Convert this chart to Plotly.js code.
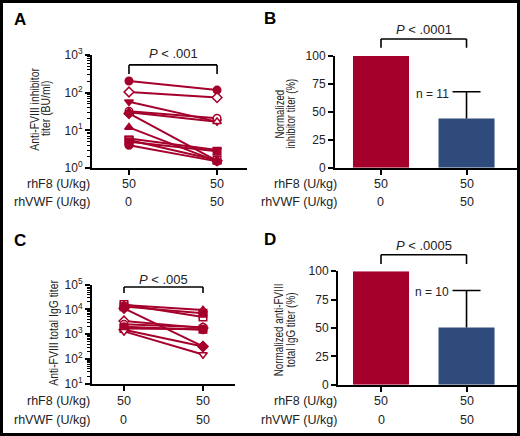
<!DOCTYPE html>
<html><head><meta charset="utf-8">
<script src="https://cdn.plot.ly/plotly-3.0.1.min.js"></script>
<style>html,body{margin:0;padding:0;background:#fff}#chart{width:520px;height:436px}</style>
</head><body><div id="chart"></div>
<script>
// ---- data ----
const groups = [0, 1];
const rhF8 = ['50', '50'];
const rhVWF = ['0', '50'];
const inhibitorBefore = [204, 104, 57, 32, 30, 28, 12, 6.1, 5.5, 5.0, 4.0];
const inhibitorAfter  = [117, 74, 17, 21, 17, 1.55, 1.5, 3.0, 1.6, 2.8, 1.5];
const iggBefore = [16000, 15000, 13000, 11000, 3400, 2500, 2000, 1700, 1500, 1300];
const iggAfter  = [5000, 9500, 7000, 320, 1800, 1900, 1500, 1600, 320, 150];
const normInhibitor = [100, 44];
const normInhibitorSD = [null, 24];
const normIgG = [100, 50.5];
const normIgGSD = [null, 32.5];
const logTicksA = [1, 10, 100, 1000];
const logTickTextA = ['10<sup>0</sup>', '10<sup>1</sup>', '10<sup>2</sup>', '10<sup>3</sup>'];
const logTicksC = [10, 100, 1000, 10000, 100000];
const logTickTextC = ['10<sup>1</sup>', '10<sup>2</sup>', '10<sup>3</sup>', '10<sup>4</sup>', '10<sup>5</sup>'];
const pctTicks = [0, 25, 50, 75, 100];

// ---- styles ----
const RED = '#a5002c', BLUE = '#2e4b7c', TXT = '#222';
const symA = ['circle','diamond','triangle-down','circle','triangle-up','diamond','triangle-up','triangle-down','square','square','circle'];
const openA = [0,1,0,1,1,0,0,1,1,0,0];
const symC = ['square','triangle-up','square','diamond','diamond','circle','circle','square','diamond','triangle-down'];
const openC = [1,0,0,0,1,1,0,0,0,1];
const FONT = 'Liberation Sans, Arial, sans-serif';

const traces = [];
function pairTraces(before, after, syms, open, xa, ya) {
  before.forEach((b, i) => {
    traces.push({
      type: 'scatter', mode: 'lines+markers', x: groups, y: [b, after[i]],
      xaxis: xa, yaxis: ya, showlegend: false, hoverinfo: 'skip', cliponaxis: false,
      line: {color: RED, width: 2},
      marker: {symbol: syms[i], size: 7.5, color: open[i] ? '#fff' : RED, line: {color: RED, width: 1.5}}
    });
  });
}
pairTraces(inhibitorBefore, inhibitorAfter, symA, openA, 'x', 'y');
pairTraces(iggBefore, iggAfter, symC, openC, 'x3', 'y3');

const layoutShapes = [];
function barTraces(vals, sd, xa, ya) {
  traces.push({type: 'bar', x: groups, y: vals, xaxis: xa, yaxis: ya, width: 0.655,
    marker: {color: [RED, BLUE], line: {width: 0}}, showlegend: false, hoverinfo: 'skip'});
  // upper error bar (SD) drawn from the data
  groups.forEach((g, i) => {
    if (sd[i] == null) return;
    const top = vals[i] + sd[i];
    layoutShapes.push({type: 'line', xref: xa, yref: ya, x0: g, x1: g, y0: vals[i], y1: top, line: {color: '#000', width: 1.6}});
    layoutShapes.push({type: 'line', xref: xa, yref: ya, xsizemode: 'pixel', xanchor: g, x0: -14, x1: 14, y0: top, y1: top, line: {color: '#000', width: 1.6}});
  });
}
barTraces(normInhibitor, normInhibitorSD, 'x2', 'y2');
barTraces(normIgG, normIgGSD, 'x4', 'y4');

const xBase = {showgrid: false, zeroline: false, showline: true, linecolor: '#000', linewidth: 2,
  ticks: 'outside', ticklen: 5, tickwidth: 2, tickcolor: '#000', tickvals: groups, showticklabels: false, fixedrange: true};
const yBase = {showgrid: false, zeroline: false, showline: true, linecolor: '#000', linewidth: 2,
  ticks: 'outside', ticklen: 5, tickwidth: 2, tickcolor: '#000', tickfont: {family: FONT, size: 12, color: TXT}, fixedrange: true};
const minorLog = {ticks: 'outside', ticklen: 3, tickwidth: 1, tickcolor: '#000', dtick: 'D1', showgrid: false};

const layout = {
  width: 520, height: 436, margin: {l: 0, r: 0, t: 0, b: 0},
  paper_bgcolor: '#fff', plot_bgcolor: 'rgba(0,0,0,0)', showlegend: false,
  font: {family: FONT, color: TXT},
  xaxis:  Object.assign({}, xBase, {domain: [0.1769, 0.475], range: [-0.42, 1.34], anchor: 'y'}),
  yaxis:  Object.assign({}, yBase, {domain: [0.6147, 0.8739], type: 'log', range: [0, 3], tickvals: logTicksA, ticktext: logTickTextA, anchor: 'x', minor: minorLog}),
  xaxis2: Object.assign({}, xBase, {domain: [0.6442, 0.9942], range: [-0.538, 1.59], anchor: 'y2'}),
  yaxis2: Object.assign({}, yBase, {domain: [0.6154, 0.8716], range: [0, 100], tickvals: pctTicks, anchor: 'x2'}),
  xaxis3: Object.assign({}, xBase, {domain: [0.1769, 0.4519], range: [-0.405, 1.405], anchor: 'y3'}),
  yaxis3: Object.assign({}, yBase, {domain: [0.12, 0.347], type: 'log', range: [1, 5], tickvals: logTicksC, ticktext: logTickTextC, anchor: 'x3', minor: minorLog}),
  xaxis4: Object.assign({}, xBase, {domain: [0.65, 0.9942], range: [-0.503, 1.59], anchor: 'y4'}),
  yaxis4: Object.assign({}, yBase, {domain: [0.1177, 0.3778], range: [0, 100], tickvals: pctTicks, anchor: 'x4'}),
  shapes: layoutShapes, annotations: []
};

// frame
layout.shapes.push({type: 'rect', xref: 'paper', yref: 'paper', x0: 0, x1: 1, y0: 0, y1: 1, line: {color: '#000', width: 6}});

// brackets + P values
function bracket(xa, ya, yTop, yLow, yText, txt) {
  const yr = ya + ' domain';
  [[0, yLow, 0, yTop], [0, yTop, 1, yTop], [1, yTop, 1, yLow]].forEach(s => {
    layout.shapes.push({type: 'line', xref: xa, yref: yr, x0: groups[s[0]], y0: s[1], x1: groups[s[2]], y1: s[3], line: {color: '#000', width: 1.6}});
  });
  layout.annotations.push({xref: xa, yref: yr, x: 0.5, y: yText, text: txt, showarrow: false,
    font: {family: FONT, size: 13, color: TXT}, xanchor: 'center', yanchor: 'middle'});
}
bracket('x', 'y', 0.912, 0.832, 1.009, '<i>P</i> < .001');
bracket('x2', 'y2', 1.152, 1.074, 1.24, '<i>P</i> < .0001');
bracket('x3', 'y3', 0.977, 0.916, 1.05, '<i>P</i> < .005');
bracket('x4', 'y4', 1.146, 1.064, 1.23, '<i>P</i> < .0005');

// n labels
layout.annotations.push({xref: 'x2', yref: 'y2 domain', x: 0.6, y: 0.74, text: 'n = 11', showarrow: false, font: {family: FONT, size: 12, color: TXT}});
layout.annotations.push({xref: 'x4', yref: 'y4 domain', x: 0.6, y: 0.897, text: 'n = 10', showarrow: false, font: {family: FONT, size: 12, color: TXT}});

// row labels and category values
function rows(xa, labelX, y1, y2) {
  [[rhF8, 'rhF8 (U/kg)', y1], [rhVWF, 'rhVWF (U/kg)', y2]].forEach(r => {
    layout.annotations.push({xref: 'paper', yref: 'paper', x: labelX, y: r[2], text: r[1], showarrow: false,
      xanchor: 'right', yanchor: 'middle', font: {family: FONT, size: 12.5, color: TXT}});
    groups.forEach((g, i) => {
      layout.annotations.push({xref: xa, yref: 'paper', x: g, y: r[2], text: r[0][i], showarrow: false,
        xanchor: 'center', yanchor: 'middle', font: {family: FONT, size: 12.5, color: TXT}});
    });
  });
}
rows('x', 92/520, 1 - 184/436, 1 - 202/436);
rows('x2', 339/520, 1 - 184/436, 1 - 202/436);
rows('x3', 92/520, 1 - 400.7/436, 1 - 419.7/436);
rows('x4', 339/520, 1 - 400.7/436, 1 - 419.7/436);

// y axis titles: one annotation per line, condensed along the text after render
const titleSquash = {};
function ytitle(xs, y, lines, squash) {
  lines.forEach((txt, j) => {
    titleSquash[layout.annotations.length] = squash;
    layout.annotations.push({xref: 'paper', yref: 'paper', x: xs[j]/520, y: 1 - y/436, text: txt, textangle: -90, showarrow: false,
      xanchor: 'center', yanchor: 'middle', font: {family: FONT, size: 13, color: TXT}});
  });
}
ytitle([34, 45], 109, ['Anti-FVIII inhibitor', 'titer (BU/ml)'], 0.8);
ytitle([279, 290], 114, ['Normalized', 'inhibitor titer (%)'], 0.74);
ytitle([53], 333, ['Anti-FVIII total IgG titer'], 0.8);
ytitle([278, 290], 330, ['Normalized anti-FVIII', 'total IgG titer (%)'], 0.76);

// panel letters
[['A', 12, 19], ['B', 262, 18.5], ['C', 12, 240.5], ['D', 262, 239]].forEach(p => {
  layout.annotations.push({xref: 'paper', yref: 'paper', x: p[1]/520, y: 1 - p[2]/436, text: '<b>' + p[0] + '</b>', showarrow: false,
    xanchor: 'left', yanchor: 'middle', font: {family: FONT, size: 17, color: '#000'}});
});

Plotly.newPlot('chart', traces, layout, {staticPlot: true, displayModeBar: false}).then(() => {
  const anns = document.querySelectorAll('#chart .annotation');
  Object.keys(titleSquash).forEach(k => {
    const g = anns[+k];
    if (!g) return;
    const t = g.querySelector('text.annotation-text');
    if (!t) return;
    const len = t.getComputedTextLength();
    t.setAttribute('textLength', (len * titleSquash[k]).toFixed(1));
    t.setAttribute('lengthAdjust', 'spacingAndGlyphs');
  });
});
</script></body></html>
